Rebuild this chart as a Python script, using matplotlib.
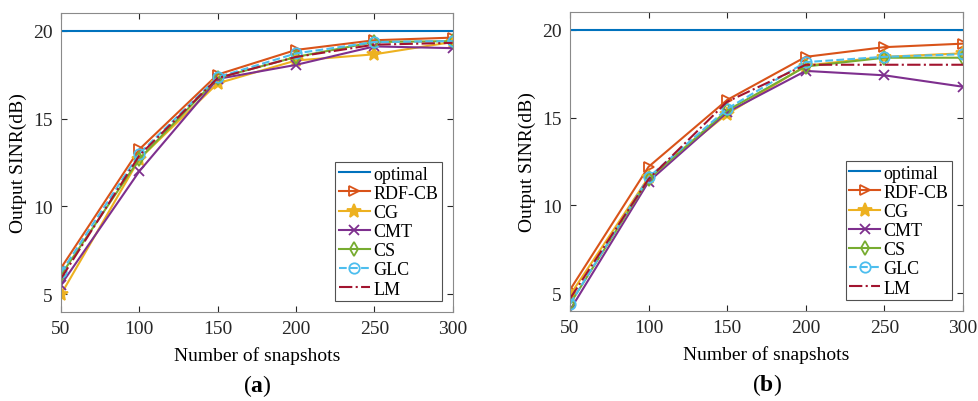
import numpy as np
import matplotlib
matplotlib.use("Agg")
import matplotlib.pyplot as plt

# data
snapshots = [50, 100, 150, 200, 250, 300]
labels = ["optimal", "RDF-CB", "CG", "CMT", "CS", "GLC", "LM"]

optimal_a = [20, 20, 20, 20, 20, 20]
rdfcb_a = [6.5, 13.25, 17.5, 18.9, 19.45, 19.6]
cg_a = [5.0, 12.7, 17.0, 18.3, 18.65, 19.35]
cmt_a = [5.55, 12.0, 17.25, 18.05, 19.1, 19.0]
cs_a = [6.1, 12.7, 17.3, 18.5, 19.35, 19.4]
glc_a = [6.25, 13.0, 17.35, 18.7, 19.35, 19.4]
lm_a = [5.9, 12.9, 17.3, 18.5, 19.2, 19.3]

optimal_b = [20, 20, 20, 20, 20, 20]
rdfcb_b = [5.2, 12.2, 16.0, 18.45, 19.0, 19.2]
cg_b = [4.9, 11.6, 15.2, 17.95, 18.45, 18.65]
cmt_b = [4.05, 11.35, 15.3, 17.65, 17.4, 16.75]
cs_b = [4.4, 11.5, 15.4, 17.9, 18.4, 18.4]
glc_b = [4.4, 11.6, 15.5, 18.15, 18.45, 18.6]
lm_b = [4.7, 11.5, 15.9, 18.0, 18.0, 18.0]

panel_a = [optimal_a, rdfcb_a, cg_a, cmt_a, cs_a, glc_a, lm_a]
panel_b = [optimal_b, rdfcb_b, cg_b, cmt_b, cs_b, glc_b, lm_b]

styles = [
    dict(color="#0072BD", ls="-", marker=None, ms=7.5),
    dict(color="#D95319", ls="-", marker=">", mfc="none", ms=7.5),
    dict(color="#EDB120", ls="-", marker="*", mfc="#EDB120", ms=10),
    dict(color="#7E2F8E", ls="-", marker="x", ms=7.5),
    dict(color="#77AC30", ls="-", marker="d", mfc="none", ms=7.5),
    dict(color="#4DBEEE", ls="--", marker="o", mfc="none", ms=7.5),
    dict(color="#A2142F", ls="-.", marker=None, ms=7.5),
]

plt.rcParams["font.family"] = ["Liberation Serif", "DejaVu Serif"]
plt.rcParams["mathtext.fontset"] = "custom"
plt.rcParams["mathtext.rm"] = "Liberation Serif"
plt.rcParams["mathtext.bf"] = "Liberation Serif:bold"

fig = plt.figure(figsize=(9.79, 4.02), dpi=100)
ax_a = fig.add_axes([0.0623, 0.2214, 0.400, 0.7438])
ax_b = fig.add_axes([0.5822, 0.2239, 0.4014, 0.7438])


def draw_panel(ax, series, tag):
    for vals, lab, st in zip(series, labels, styles):
        ax.plot(snapshots, vals, label=lab, lw=1.5, mew=1.3, **st)
    ax.set_xlim(50, 300)
    ax.set_ylim(4, 21)
    ax.set_xticks(snapshots)
    ax.set_yticks([5, 10, 15, 20])
    ax.tick_params(direction="in", top=True, right=True, labelsize=14,
                   colors="#262626", length=4, pad=6)
    for sp in ax.spines.values():
        sp.set_color("#8a8a8a")
    ax.set_xlabel("Number of snapshots", fontsize=14, labelpad=6)
    ax.set_ylabel("Output SINR(dB)", fontsize=14, labelpad=4)
    leg = ax.legend(loc="lower right", fontsize=13, frameon=True, fancybox=False,
                    handlelength=1.7, handletextpad=0.2, labelspacing=0.12,
                    borderpad=0.2, borderaxespad=0.6)
    leg.get_frame().set_edgecolor("#262626")
    leg.get_frame().set_linewidth(0.8)
    ax.text(0.5, -0.245, r"$\mathrm{(}\mathbf{" + tag + r"}\mathrm{)}$",
            transform=ax.transAxes, ha="center", va="center", fontsize=17)


draw_panel(ax_a, panel_a, "a")
draw_panel(ax_b, panel_b, "b")

fig.savefig("out.png", dpi=100)
